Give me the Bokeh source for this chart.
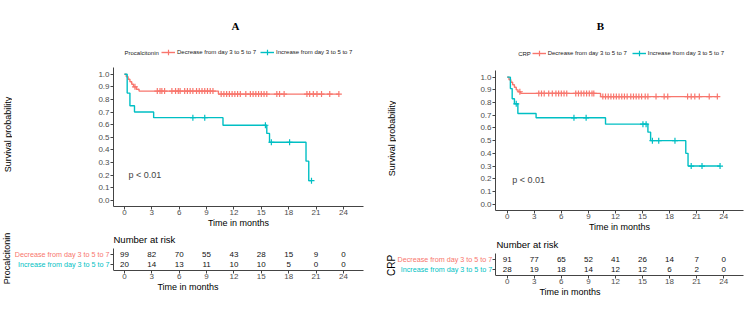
import numpy as np
from bokeh.plotting import figure
from bokeh.layouts import row, column
from bokeh.models import (Label, Legend, LegendItem, FixedTicker, Range1d,
                          ColumnDataSource, PrintfTickFormatter)
from bokeh.embed import file_html
from bokeh.resources import INLINE
from bokeh.core.properties import value

RED = "#F8766D"
TEAL = "#00BFC4"
FONT = "Liberation Sans"
AXIS = "#444444"
TICK_TEXT = "#4D4D4D"
PAGE_H = 310

month_ticks = [0, 3, 6, 9, 12, 15, 18, 21, 24]
groups = ["Decrease from day 3 to 5 to 7", "Increase from day 3 to 5 to 7"]

# ---- Panel A: procalcitonin ----
pct_dec_time = [0, 0.2, 0.4, 0.6, 0.8, 1.0, 1.3, 1.6, 10.3]
pct_dec_surv = [1.0, 0.98, 0.96, 0.94, 0.92, 0.90, 0.88, 0.866, 0.842]
pct_dec_cens = [1.15, 3.6, 3.9, 4.1, 4.4, 5.2, 5.6, 5.9, 6.1, 6.6, 6.9, 7.2, 7.5,
                7.9, 8.2, 8.5, 8.8, 9.1, 9.4, 9.7, 10.6, 10.9, 11.2, 11.5, 11.8,
                12.1, 12.4, 12.7, 13.3, 13.8, 14.1, 14.4, 14.7, 15.0, 15.3, 15.6,
                16.7, 17.0, 17.5, 20.0, 20.3, 20.7, 21.1, 21.6, 22.5, 23.5]

pct_inc_time = [0, 0.3, 0.6, 1.1, 3.2, 10.8, 15.6, 15.9, 19.9, 20.2]
pct_inc_surv = [1.0, 0.85, 0.75, 0.70, 0.655, 0.595, 0.53, 0.46, 0.31, 0.155]
pct_inc_cens = [7.5, 8.8, 15.45, 16.1, 18.1, 20.5]

pct_risk_dec = [99, 82, 70, 55, 43, 28, 15, 9, 0]
pct_risk_inc = [20, 14, 13, 11, 10, 10, 5, 0, 0]

# ---- Panel B: CRP ----
crp_dec_time = [0, 0.2, 0.4, 0.6, 0.8, 1.0, 1.2, 1.5, 10.35]
crp_dec_surv = [1.0, 0.98, 0.96, 0.94, 0.92, 0.90, 0.885, 0.872, 0.847]
crp_dec_cens = [1.4, 3.5, 3.8, 4.1, 4.6, 5.0, 5.4, 5.7, 6.0, 6.3, 6.6, 7.6, 7.9,
                8.2, 8.5, 8.8, 9.1, 9.4, 9.6, 10.6, 10.9, 11.2, 11.5, 11.8, 12.1,
                12.4, 12.7, 13.0, 13.3, 13.7, 14.0, 14.3, 14.6, 14.9, 15.3, 15.6,
                16.5, 17.4, 17.8, 20.0, 20.4, 20.8, 21.3, 22.4, 23.3]

crp_inc_time = [0, 0.35, 0.55, 0.8, 1.18, 3.2, 10.9, 15.6, 15.9, 19.8, 20.05]
crp_inc_surv = [1.0, 0.91, 0.83, 0.79, 0.714, 0.68, 0.63, 0.567, 0.50, 0.40, 0.30]
crp_inc_cens = [1.0, 7.4, 8.75, 15.05, 15.4, 16.1, 16.8, 18.6, 20.4, 21.6, 23.6]

crp_risk_dec = [91, 77, 65, 52, 41, 26, 14, 7, 0]
crp_risk_inc = [28, 19, 18, 14, 12, 12, 6, 2, 0]


def style_axis(ax):
    ax.axis_line_color = AXIS
    ax.axis_line_width = 1
    ax.major_tick_line_color = AXIS
    ax.major_tick_out = 3
    ax.major_tick_in = 0
    ax.minor_tick_line_color = None
    ax.major_label_text_font = FONT
    ax.major_label_text_font_size = "8px"
    ax.major_label_text_color = TICK_TEXT
    ax.axis_label_text_font = FONT
    ax.axis_label_text_font_size = "9px"
    ax.axis_label_text_font_style = "normal"
    ax.axis_label_text_color = "black"


def bare_figure(width, height, x_range, y_range, borders, **kw):
    left, right, top, bottom = borders
    p = figure(width=width, height=height, x_range=x_range, y_range=y_range,
               output_backend="svg", toolbar_location=None,
               min_border_left=left, min_border_right=right,
               min_border_top=top, min_border_bottom=bottom, **kw)
    p.xgrid.visible = False
    p.ygrid.visible = False
    p.outline_line_color = None
    p.background_fill_color = "white"
    p.border_fill_color = "white"
    return p


def title_strip(cfg):
    # full-height strip, one pixel per unit, holding both rotated titles
    w = cfg["strip_w"]
    s = bare_figure(w, PAGE_H, Range1d(0, w), Range1d(0, PAGE_H), (0, 0, 0, 0),
                    x_axis_location=None, y_axis_location=None)
    for text, (cx, cy), size in (("Survival probability", cfg["ylabel_at"], "9px"),
                                 (cfg["name"], cfg["group_label_at"],
                                  cfg["group_label_size"])):
        s.text(x=[cx], y=[cy], text=[text], angle=np.pi / 2,
               text_align="center", text_baseline="middle",
               text_font=value(FONT), text_font_size=size, text_color="black")
    return s


def screen_label(p, x, y, text, size, **kw):
    opts = dict(text_font=FONT, text_align="left", text_baseline="middle",
                text_color="black")
    opts.update(kw)
    p.add_layout(Label(x=x, y=y, x_units="screen", y_units="screen",
                       text=text, text_font_size=size, **opts))


def add_curve(p, times, surv, cens, color):
    end = max(cens[-1], times[-1])
    xs = list(times) + [end]
    ys = list(surv) + [surv[-1]]
    line = p.step(xs, ys, mode="after", line_color=color, line_width=1.4)
    idx = np.searchsorted(np.array(times), np.array(cens), side="right") - 1
    cy = np.array(surv)[idx]
    marks = p.scatter(cens, cy, marker="cross", size=6, line_color=color,
                      line_width=1.2)
    return line, marks


def km_panel(cfg):
    ppu = cfg["px_per_unit"]
    frame_h = cfg["height"] - cfg["borders"][3]
    yr = Range1d(-0.05, -0.05 + frame_h / ppu)
    p = bare_figure(375 - cfg["strip_w"], cfg["height"], Range1d(*cfg["xr"]), yr,
                    cfg["borders"])
    p.xaxis.ticker = FixedTicker(ticks=month_ticks)
    p.yaxis.ticker = FixedTicker(ticks=[i / 10 for i in range(11)])
    p.yaxis.formatter = PrintfTickFormatter(format="%.1f")
    p.yaxis.bounds = (-0.05, 1.05)
    style_axis(p.xaxis[0])
    style_axis(p.yaxis[0])
    p.xaxis.axis_label = "Time in months"
    p.xaxis.major_label_standoff = 0
    p.xaxis.axis_label_standoff = 0
    p.yaxis.major_label_standoff = 1

    r1 = add_curve(p, cfg["dec"][0], cfg["dec"][1], cfg["dec"][2], RED)
    r2 = add_curve(p, cfg["inc"][0], cfg["inc"][1], cfg["inc"][2], TEAL)

    legend = Legend(items=[LegendItem(label=groups[0], renderers=list(r1)),
                           LegendItem(label=groups[1], renderers=list(r2))],
                    orientation="horizontal", location=cfg["legend_at"],
                    glyph_width=14, glyph_height=14, label_height=8,
                    label_standoff=2, spacing=cfg["legend_gap"], padding=0, margin=0,
                    border_line_color=None, background_fill_alpha=0,
                    label_text_font=FONT, label_text_font_size="6px",
                    label_text_color="#222222")
    p.add_layout(legend)

    lx, ly = cfg["legend_title_at"]
    screen_label(p, lx, ly, cfg["name"], "6px", text_color="#222222")
    tx, ty = cfg["title_at"]
    screen_label(p, tx, ty, cfg["letter"], "11px", text_font="Liberation Serif",
                 text_font_style="bold", text_align="center")
    px, py = cfg["pval_at"]
    p.add_layout(Label(x=px, y=py, text="p < 0.01", text_font=FONT,
                       text_font_size="9px", text_align="left",
                       text_baseline="middle"))
    return p


def risk_panel(cfg):
    x0, x1 = cfg["xr"]
    t = bare_figure(375 - cfg["strip_w"], cfg["t_height"],
                    Range1d(cfg["t_xstart"], x1), Range1d(0.4, cfg["t_ytop"]),
                    cfg["t_borders"], y_axis_location=None)
    t.xaxis.ticker = FixedTicker(ticks=month_ticks)
    t.xaxis.bounds = (x0, x1)
    style_axis(t.xaxis[0])
    t.xaxis.axis_label = "Time in months"
    t.xaxis.major_label_standoff = 0
    t.xaxis.axis_label_standoff = 0

    for yrow, counts in ((2, cfg["risk_dec"]), (1, cfg["risk_inc"])):
        src = ColumnDataSource(dict(x=month_ticks, y=[yrow] * len(counts),
                                    n=[str(c) for c in counts]))
        t.text(x="x", y="y", text="n", source=src, text_align="center",
               text_baseline="middle", text_font=value(FONT),
               text_font_size="8px", text_color="#111111")

    # short y-axis with a tick beside each stratum row
    t.segment(x0=[x0] * 2, x1=[x0 - 0.33] * 2, y0=[2, 1], y1=[2, 1],
              line_color=AXIS, line_width=1)
    t.segment(x0=[x0], x1=[x0], y0=[0.4], y1=[2.6], line_color=AXIS, line_width=1)

    for yrow, label, color in ((2, groups[0], RED), (1, groups[1], TEAL)):
        t.add_layout(Label(x=cfg["strata_x"], y=yrow, x_units="screen",
                           y_units="data", text=label, text_font=FONT,
                           text_font_size="7.2px", text_color=color,
                           text_align="right", text_baseline="middle"))
    nx, ny = cfg["nar_at"]
    screen_label(t, nx, ny, "Number at risk", "9.5px")
    return t


panel_a = dict(
    name="Procalcitonin", letter="A", height=230, strip_w=12,
    px_per_unit=126.0, xr=(-1.2, 26.2), borders=(101, 12, 0, 24),
    dec=(pct_dec_time, pct_dec_surv, pct_dec_cens),
    inc=(pct_inc_time, pct_inc_surv, pct_inc_cens),
    legend_at=(48, 147), legend_gap=4, legend_title_at=(11, 154),
    title_at=(122, 181), ylabel_at=(7, 176), pval_at=(0.45, 0.2),
    t_height=80, t_borders=(0, 12, 0, 40), t_xstart=-12.27,
    t_ytop=4.4, risk_dec=pct_risk_dec, risk_inc=pct_risk_inc,
    strata_x=97, nar_at=(101, 31), group_label_at=(6.5, 52),
    group_label_size="9px",
)

panel_b = dict(
    name="CRP", letter="B", height=234, strip_w=21,
    px_per_unit=127.0, xr=(-1.3, 26.2), borders=(99, 7, 0, 24),
    dec=(crp_dec_time, crp_dec_surv, crp_dec_cens),
    inc=(crp_inc_time, crp_inc_surv, crp_inc_cens),
    legend_at=(36.7, 149.7), legend_gap=5, legend_title_at=(22.7, 156.7),
    title_at=(105, 185), ylabel_at=(16, 172), pval_at=(0.55, 0.19),
    t_height=76, t_borders=(0, 7, 0, 35), t_xstart=-12.28,
    t_ytop=4.5, risk_dec=crp_risk_dec, risk_inc=crp_risk_inc,
    strata_x=95.7, nar_at=(100, 31), group_label_at=(16, 45),
    group_label_size="10px",
)


def build(cfg):
    return row(title_strip(cfg),
               column(row(km_panel(cfg)), row(risk_panel(cfg))))


layout = row(build(panel_a), build(panel_b))

with open("out.html", "w") as f:
    f.write(file_html(layout, INLINE))
